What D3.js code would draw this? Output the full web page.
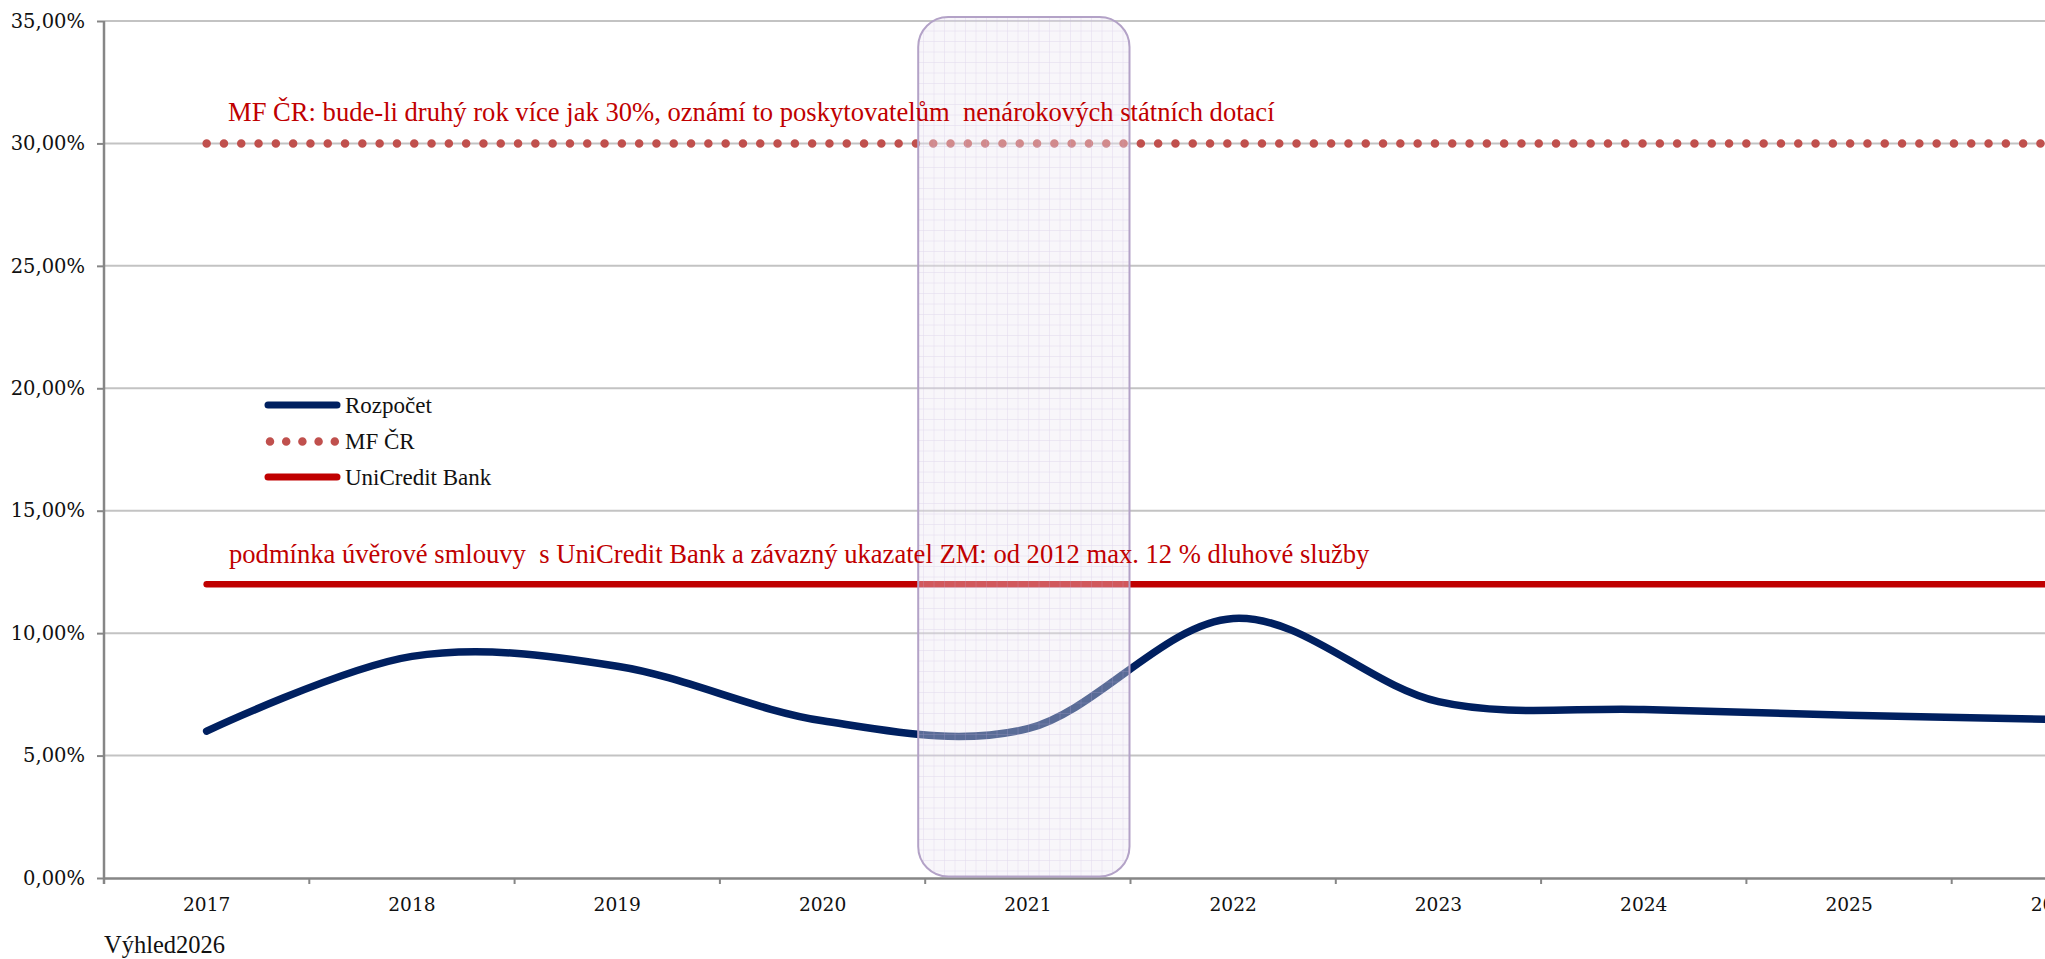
<!DOCTYPE html>
<html>
<head>
<meta charset="utf-8">
<script src="https://cdn.jsdelivr.net/npm/d3@7/dist/d3.min.js"></script>
<style>
  html, body { margin: 0; padding: 0; background: #fff; overflow: hidden; }
  svg { display: block; }
</style>
</head>
<body>
<script>
// ---- data ----
const years = ["2017", "2018", "2019", "2020", "2021", "2022", "2023", "2024", "2025", "2026"];
const rozpocet = [6.0, 9.05, 8.65, 6.42, 6.1, 10.6, 7.2, 6.88, 6.65, 6.48];
const mfCR = [30, 30, 30, 30, 30, 30, 30, 30, 30, 30];
const uniCredit = [12, 12, 12, 12, 12, 12, 12, 12, 12, 12];
const yTicks = [0, 5, 10, 15, 20, 25, 30, 35];
const seriesNames = ["Rozpočet", "MF ČR", "UniCredit Bank"];
const highlightYear = "2021";
const noteMF = "MF ČR: bude-li druhý rok více jak 30%, oznámí to poskytovatelům  nenárokových státních dotací";
const noteUC = "podmínka úvěrové smlouvy  s UniCredit Bank a závazný ukazatel ZM: od 2012 max. 12 % dluhové služby";
const footer = "Výhled2026";

// ---- layout ----
const W = 2045, H = 959;
const plotLeft = 104, plotTop = 21, plotBottom = 878;
const step = 205.3;

const svg = d3.select("body").append("svg").attr("width", W).attr("height", H);

const x = d3.scaleBand().domain(years).range([plotLeft, plotLeft + step * years.length]).padding(0);
const xc = d => x(d) + x.bandwidth() / 2;
const y = d3.scaleLinear().domain([0, 35]).range([plotBottom, plotTop]);

// pattern for highlight box
const defs = svg.append("defs");
const pat = defs.append("pattern").attr("id", "grid").attr("patternUnits", "userSpaceOnUse")
  .attr("width", 10.5).attr("height", 10.5);
pat.append("rect").attr("width", 10.5).attr("height", 10.5).attr("fill", "rgba(236,231,243,0.38)");
pat.append("path").attr("d", "M10.5 0 V10.5 M0 10.5 H10.5").attr("stroke", "rgba(190,176,214,0.4)").attr("stroke-width", 1).attr("fill", "none");

// gridlines
svg.append("g").selectAll("line").data(yTicks.filter(t => t > 0)).join("line")
  .attr("x1", plotLeft).attr("x2", W).attr("y1", d => y(d)).attr("y2", d => y(d))
  .attr("stroke", "#c3c3c3").attr("stroke-width", 2);

// y axis
const fmt = v => v.toFixed(2).replace(".", ",") + "%";
const yAxis = d3.axisLeft(y).tickValues(yTicks).tickFormat(fmt).tickSize(7).tickPadding(12);
const gy = svg.append("g").attr("transform", `translate(${plotLeft},0)`).call(yAxis);
gy.select(".domain").attr("stroke", "#868686").attr("stroke-width", 2.5).attr("d", `M0,${plotTop}V${plotBottom + 6}`);
gy.selectAll(".tick line").attr("stroke", "#868686").attr("stroke-width", 2);
gy.selectAll(".tick text").attr("font-family", "DejaVu Serif").attr("font-size", 19.5).attr("fill", "#111");

// x axis
const gx = svg.append("g").attr("transform", `translate(0,${plotBottom})`)
  .call(d3.axisBottom(x).tickSize(0).tickPadding(20));
gx.select(".domain").attr("stroke", "#868686").attr("stroke-width", 2.5);
gx.selectAll(".tick text").attr("font-family", "DejaVu Serif").attr("font-size", 18.6).attr("fill", "#111");
// boundary tick marks
svg.append("g").selectAll("line").data(years).join("line")
  .attr("x1", d => x(d) + x.bandwidth()).attr("x2", d => x(d) + x.bandwidth())
  .attr("y1", plotBottom).attr("y2", plotBottom + 6)
  .attr("stroke", "#868686").attr("stroke-width", 2);

// series lines
const lineGen = d3.line().x((d, i) => xc(years[i])).y(d => y(d));
svg.append("path").datum(mfCR).attr("d", lineGen).attr("fill", "none")
  .attr("stroke", "#C0504D").attr("stroke-width", 8.5).attr("stroke-linecap", "round")
  .attr("stroke-dasharray", "0 17.3");
svg.append("path").datum(uniCredit).attr("d", lineGen).attr("fill", "none")
  .attr("stroke", "#C00000").attr("stroke-width", 6.5).attr("stroke-linecap", "round");
svg.append("path").datum(rozpocet).attr("d", d3.line().x((d, i) => xc(years[i])).y(d => y(d)).curve(d3.curveCardinal.tension(0)))
  .attr("fill", "none").attr("stroke", "#002060").attr("stroke-width", 7.5).attr("stroke-linecap", "round");

// highlight box
svg.append("rect")
  .attr("x", x(highlightYear) - 7).attr("y", 17)
  .attr("width", x.bandwidth() + 6).attr("height", plotBottom - 1.5 - 17)
  .attr("rx", 30).attr("ry", 30)
  .attr("fill", "url(#grid)")
  .attr("stroke", "#B3A2C7").attr("stroke-width", 2);

// annotations
svg.append("text").attr("x", 228).attr("y", 121).text(noteMF)
  .attr("font-family", "Liberation Serif").attr("font-size", 26.6).attr("fill", "#C00000")
  .style("white-space", "pre");
svg.append("text").attr("x", 229).attr("y", 563).text(noteUC)
  .attr("font-family", "Liberation Serif").attr("font-size", 26.6).attr("fill", "#C00000")
  .style("white-space", "pre");

// legend
const lg = svg.append("g");
const legY = [405, 441.5, 477];
const legX1 = 268, legX2 = 337;
lg.append("line").attr("x1", legX1).attr("x2", legX2).attr("y1", legY[0]).attr("y2", legY[0])
  .attr("stroke", "#002060").attr("stroke-width", 7).attr("stroke-linecap", "round");
lg.append("line").attr("x1", 270).attr("x2", 335).attr("y1", legY[1]).attr("y2", legY[1])
  .attr("stroke", "#C0504D").attr("stroke-width", 8.5).attr("stroke-linecap", "round").attr("stroke-dasharray", "0 16.2");
lg.append("line").attr("x1", legX1).attr("x2", legX2).attr("y1", legY[2]).attr("y2", legY[2])
  .attr("stroke", "#C00000").attr("stroke-width", 7).attr("stroke-linecap", "round");
lg.selectAll("text").data(seriesNames).join("text")
  .attr("x", 345).attr("y", (d, i) => legY[i] + 7.5).text(d => d)
  .attr("font-family", "Liberation Serif").attr("font-size", 23).attr("fill", "#111");

// footer
svg.append("text").attr("x", 104).attr("y", 953).text(footer)
  .attr("font-family", "Liberation Serif").attr("font-size", 24.5).attr("fill", "#111");
</script>
</body>
</html>
